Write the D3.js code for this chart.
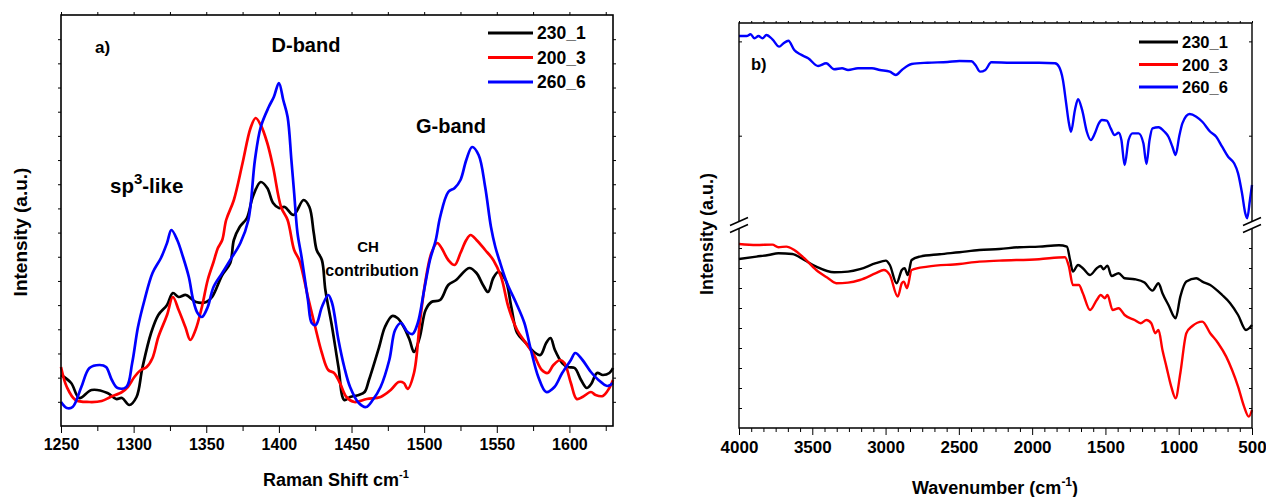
<!DOCTYPE html>
<html><head><meta charset="utf-8">
<script src="https://cdn.jsdelivr.net/npm/d3@7/dist/d3.min.js"></script>
<style>
body{margin:0;background:#fff}
text{font-family:"Liberation Sans",Arial,sans-serif;font-weight:bold;fill:#000}
</style>
</head><body>
<svg id="chart" width="1266" height="497"></svg>
<script>
// ---------- DATA ----------
const seriesNames = ["230_1", "200_3", "260_6"];
const seriesColors = ["#000000", "#ff0000", "#0000ff"];

// Raman (panel a): [Raman shift cm-1, intensity a.u.]
const raman230_1 = [[1250,51],[1257,43],[1262.6,28],[1271,36],[1282,33],[1288,27],[1292,28],[1297,21],[1302,29],[1306,58],[1312,93],[1317,111],[1323,121],[1327,133],[1331,129],[1336,131],[1343,124],[1350,124],[1354,129],[1361,151],[1366.5,163],[1369,186],[1373,199],[1378,208],[1382,229],[1387.5,244],[1392,238],[1396,223],[1400,218],[1404,219],[1410,211],[1417,226],[1421,219],[1424,193],[1426,176],[1429.6,166],[1432,136],[1436.6,99],[1441,59],[1445,26],[1449,29],[1455,31],[1459,34],[1462,46],[1469,79],[1473,99],[1478,110],[1481.6,108],[1486,99],[1490,86],[1493,74],[1497,89],[1501,116],[1505,124],[1511,126],[1516.6,141],[1522,146],[1531,158],[1536,153],[1540.5,141],[1544,134],[1547.6,148],[1551,154],[1556,146],[1560,119],[1564,93],[1570,83],[1575.6,74],[1580,71],[1584,83],[1587,88],[1590,76],[1595,63],[1599,59],[1603.6,58],[1608,46],[1612,38],[1615,42],[1619,53],[1623,51],[1627.5,53],[1630,58]];
const raman200_3 = [[1250,59],[1254,39],[1260,26],[1269.6,24],[1278,25],[1284,29],[1292,34],[1296,39],[1300.5,49],[1305,56],[1309,59],[1313,68],[1317,89],[1323,111],[1327,129],[1331,116],[1335.6,99],[1339,86],[1342.6,96],[1347,119],[1351,146],[1355,164],[1358,178],[1361,186],[1363.7,206],[1369,226],[1375,263],[1380.5,298],[1384,308],[1387.5,301],[1392,283],[1396,259],[1401.5,219],[1406,206],[1410.5,176],[1414,166],[1420,129],[1425,99],[1429.6,73],[1434,56],[1438,53],[1442,43],[1446.5,29],[1452,24],[1460.5,27],[1470,29],[1477,36],[1482.5,44],[1486,43],[1488.6,37],[1493,53],[1497,103],[1501,146],[1505,173],[1509,183],[1512,178],[1516.6,166],[1521,161],[1525,173],[1529,186],[1532,191],[1536,186],[1542,176],[1547.6,166],[1553,149],[1558,119],[1564,96],[1570,83],[1575.6,71],[1581,56],[1585,53],[1589,61],[1593.6,66],[1596.6,63],[1601,43],[1605,27],[1609,29],[1614.8,34],[1618,31],[1623,30],[1627.5,38],[1630,46]];
const raman260_6 = [[1250,24],[1254,18],[1258,19],[1264,39],[1269.6,58],[1276.7,61],[1281,59],[1285,46],[1289,38],[1295,39],[1299,63],[1303,99],[1307.5,126],[1313,153],[1318.8,168],[1323,183],[1326,196],[1330,186],[1334,169],[1338,149],[1341,126],[1344,113],[1347,109],[1351,119],[1355,139],[1361,153],[1366.5,166],[1373.5,183],[1379,206],[1383.5,266],[1387.5,299],[1393,319],[1396.5,329],[1400,343],[1403,326],[1406,309],[1408.6,266],[1410.5,233],[1412.8,193],[1415.6,169],[1420,126],[1422.6,103],[1425.4,101],[1429.6,119],[1434,131],[1436.6,123],[1441,86],[1445,59],[1449,39],[1455,23],[1460,19],[1464.6,26],[1470,39],[1476,66],[1480,96],[1484,103],[1488.6,94],[1492,92],[1495.6,103],[1500,136],[1504,166],[1508,186],[1511,209],[1516.6,234],[1521,238],[1525,246],[1529,266],[1533,279],[1537.5,271],[1542,239],[1546,199],[1549,179],[1551.7,166],[1557,143],[1563,124],[1569,103],[1573,79],[1578.6,49],[1584,34],[1589.7,39],[1595,53],[1601,66],[1604,73],[1609,66],[1614.8,54],[1620,46],[1626,40],[1630,43]];

// FTIR (panel b): [wavenumber cm-1, intensity a.u.]
const ftir230_1 = [[4000,84.5],[3881,85.7],[3799,86.5],[3731,87.4],[3636,87],[3555,84],[3473,80.7],[3351,77.9],[3256,78.2],[3175,79.4],[3066,82.4],[2998,83.7],[2971,81.5],[2925,72.4],[2889,79],[2870,79.9],[2849,76.5],[2822,84],[2767,85.7],[2631,86.9],[2496,87.9],[2360,89],[2224,89.5],[2088,90.4],[1953,90.7],[1817,91.4],[1763,90.7],[1741,84],[1722,78.2],[1687,81.5],[1654,79.9],[1605,76.5],[1559,79.9],[1532,81],[1513,79.4],[1486,81.2],[1459,76],[1410,77.4],[1369,74.9],[1301,74.4],[1233,72.7],[1179,68.7],[1138,72.4],[1111,67.4],[1070,61.5],[1021,54.9],[989,65.7],[948,73.2],[880,74.9],[839,73.2],[785,71.5],[704,66.5],[649,62.4],[595,56.5],[541,49],[500,51.5]];
const ftir200_3 = [[4000,92],[3881,91.5],[3772,91.7],[3731,90.4],[3677,90.7],[3623,89],[3555,84.9],[3473,79],[3392,74.9],[3337,72.4],[3256,72.7],[3175,74],[3066,77.4],[3012,79],[2971,76.5],[2917,65.7],[2889,72.4],[2876,73.2],[2854,69.9],[2822,79],[2713,80.7],[2496,82],[2360,83.2],[2224,83.7],[1953,84.4],[1776,85.4],[1749,80.7],[1722,71.5],[1681,71.5],[1654,67.4],[1605,59],[1559,64],[1532,66.5],[1505,64.9],[1486,66.5],[1451,59],[1410,59.9],[1369,56.5],[1301,54],[1260,52.4],[1220,54],[1187,52.4],[1160,47.4],[1138,49],[1111,39],[1084,30.7],[1051,20.7],[1021,14.9],[989,27.4],[948,47.4],[907,51],[839,53.2],[785,47.4],[731,42.4],[676,35.7],[636,29],[595,20.7],[554,10.7],[522,5.7],[500,9]];
const ftir260_6 = [[4000,205.7],[3948,205.7],[3921,207.5],[3894,203.3],[3867,205.7],[3840,203.3],[3813,206.8],[3772,202.2],[3726,194.4],[3696,198],[3663,200.7],[3623,190.9],[3582,186.3],[3528,182.1],[3460,173.9],[3405,176.8],[3351,170.4],[3297,171.5],[3256,169.7],[3188,171.5],[3093,171.5],[3039,169.7],[2971,167.9],[2930,164.4],[2889,169.7],[2822,176],[2713,177.4],[2577,178.2],[2496,179.2],[2414,178.9],[2387,175],[2355,167.9],[2319,169.7],[2279,177.8],[2143,177.4],[1953,177.4],[1844,176.8],[1817,173.2],[1790,159.1],[1768,134.4],[1749,113.1],[1735,104.2],[1708,127.3],[1687,138.6],[1659,127.3],[1627,104.2],[1600,95.4],[1572,102.5],[1545,113.1],[1524,116.6],[1491,115.9],[1464,107.8],[1437,100.7],[1410,103.2],[1391,95.4],[1369,68.9],[1342,95.4],[1315,102.5],[1274,102.5],[1241,91.9],[1220,70],[1199,95.4],[1179,107.8],[1138,108.9],[1097,104.2],[1070,98.9],[1043,88.3],[1021,79.5],[997,98.9],[975,113.1],[926,123],[880,120.2],[839,114.8],[785,104.2],[744,98.9],[704,88.3],[663,77.7],[622,70.7],[595,60.1],[568,38.9],[546,17.7],[533,12.4],[514,31.8],[500,47.7]];

const ramanXTicks = [1250,1300,1350,1400,1450,1500,1550,1600];
const ftirXTicks = [4000,3500,3000,2500,2000,1500,1000,500];

// ---------- DRAW ----------
const svg = d3.select("#chart");
svg.append("rect").attr("width",1266).attr("height",497).attr("fill","#fff");
const FONT = "Liberation Sans, Arial, sans-serif";

// ===== Panel a =====
const A = {l:61, r:613, t:15, b:426};
const xA = d3.scaleLinear().domain([1250,1630]).range([A.l, A.r]);
const yA = d3.scaleLinear().domain([0,411]).range([A.b, A.t]);
const gA = svg.append("g");

gA.append("g").attr("transform",`translate(0,${A.b})`)
  .call(d3.axisBottom(xA).tickValues(ramanXTicks).tickSize(7).tickPadding(6).tickFormat(d3.format("d")))
  .call(g=>{g.select(".domain").remove(); g.selectAll("text").attr("font-size",16).attr("font-family",FONT).attr("font-weight","bold");});
gA.append("g").attr("transform",`translate(0,${A.b})`)
  .call(d3.axisBottom(xA).tickValues(d3.range(1275,1630,50)).tickSize(5).tickFormat(""))
  .call(g=>g.select(".domain").remove());
gA.append("g").attr("transform",`translate(0,${A.t})`)
  .call(d3.axisTop(xA).tickValues(d3.range(1250,1631,25)).tickSize(3).tickFormat(""))
  .call(g=>g.select(".domain").remove());
const yTickA = d3.range(1,17).map(i=>i*411/17);
gA.append("g").attr("transform",`translate(${A.l},0)`)
  .call(d3.axisLeft(yA).tickValues(yTickA).tickSize(3).tickFormat(""))
  .call(g=>g.select(".domain").remove());
gA.append("g").attr("transform",`translate(${A.r},0)`)
  .call(d3.axisRight(yA).tickValues(yTickA).tickSize(3).tickFormat(""))
  .call(g=>g.select(".domain").remove());

const lineA = d3.line().x(d=>xA(d[0])).y(d=>yA(d[1])).curve(d3.curveCatmullRom.alpha(0.5));
[raman230_1, raman200_3, raman260_6].forEach((s,i)=>{
  gA.append("path").datum(s).attr("d",lineA).attr("fill","none")
    .attr("stroke",seriesColors[i]).attr("stroke-width",2.7).attr("stroke-linejoin","round");
});
gA.append("rect").attr("x",A.l).attr("y",A.t).attr("width",A.r-A.l).attr("height",A.b-A.t)
  .attr("fill","none").attr("stroke","#000").attr("stroke-width",1.6);

seriesNames.forEach((n,i)=>{
  const y = 33 + i*24.5;
  gA.append("line").attr("x1",488).attr("x2",533).attr("y1",y).attr("y2",y)
    .attr("stroke",seriesColors[i]).attr("stroke-width",2.8);
  gA.append("text").attr("x",537).attr("y",y+6).attr("font-size",17.5).text(n);
});
gA.append("text").attr("x",95).attr("y",53).attr("font-size",17).text("a)");
gA.append("text").attr("x",306).attr("y",52).attr("font-size",20).attr("text-anchor","middle").text("D-band");
gA.append("text").attr("x",451).attr("y",133).attr("font-size",20).attr("text-anchor","middle").text("G-band");
const sp = gA.append("text").attr("x",110).attr("y",193).attr("font-size",20.5);
sp.append("tspan").text("sp");
sp.append("tspan").attr("dy",-9).attr("font-size",15).text("3");
sp.append("tspan").attr("dy",9).text("-like");
gA.append("text").attr("x",368).attr("y",252).attr("font-size",15).attr("text-anchor","middle").text("CH");
gA.append("text").attr("x",372).attr("y",276).attr("font-size",16).attr("text-anchor","middle").text("contribution");
const xtA = gA.append("text").attr("x",263).attr("y",486).attr("font-size",18);
xtA.append("tspan").text("Raman Shift cm");
xtA.append("tspan").attr("dy",-8).attr("font-size",11).text("-1");
gA.append("text").attr("transform","translate(27,232) rotate(-90)").attr("text-anchor","middle")
  .attr("font-size",19).text("Intensity (a.u.)");

// ===== Panel b =====
const B = {l:739, r:1252, t:23, b:428, brk:225};
const xB = d3.scaleLinear().domain([4000,500]).range([B.l, B.r]);
const yBlow = d3.scaleLinear().domain([0,100]).range([B.b, 228]);
const yBup = d3.scaleLinear().domain([0,219.5]).range([230, B.t]);
const gB = svg.append("g");

gB.append("g").attr("transform",`translate(0,${B.b})`)
  .call(d3.axisBottom(xB).tickValues(ftirXTicks).tickSize(7).tickPadding(6).tickFormat(d3.format("d")))
  .call(g=>{g.select(".domain").remove(); g.selectAll("text").attr("font-size",17).attr("font-family",FONT).attr("font-weight","bold");});
const allMinorB = d3.range(0,43).map(i=>4000-i*500/6);
const minorB = allMinorB.filter((v,i)=>i%6!==0);
gB.append("g").attr("transform",`translate(0,${B.b})`)
  .call(d3.axisBottom(xB).tickValues(minorB).tickSize(4).tickFormat(""))
  .call(g=>g.select(".domain").remove());
gB.append("g").attr("transform",`translate(0,${B.t})`)
  .call(d3.axisTop(xB).tickValues(allMinorB).tickSize(2).tickFormat(""))
  .call(g=>g.select(".domain").remove());
const yTickLow = [10,20,30,40,50,60,70,80,90];
const yTickUp = [100,200];
[[B.l,"L"],[B.r,"R"]].forEach(([x,side])=>{
  const ax = side==="L"?d3.axisRight:d3.axisLeft;
  gB.append("g").attr("transform",`translate(${x},0)`)
    .call(ax(yBlow).tickValues(yTickLow).tickSize(3).tickFormat(""))
    .call(g=>g.select(".domain").remove());
  gB.append("g").attr("transform",`translate(${x},0)`)
    .call(ax(yBup).tickValues(yTickUp).tickSize(3).tickFormat(""))
    .call(g=>g.select(".domain").remove());
});

const lineLow = d3.line().x(d=>xB(d[0])).y(d=>yBlow(d[1])).curve(d3.curveMonotoneX);
const lineUp = d3.line().x(d=>xB(d[0])).y(d=>yBup(d[1])).curve(d3.curveMonotoneX);
gB.append("path").datum(ftir230_1).attr("d",lineLow).attr("fill","none").attr("stroke",seriesColors[0]).attr("stroke-width",2.4).attr("stroke-linejoin","round");
gB.append("path").datum(ftir200_3).attr("d",lineLow).attr("fill","none").attr("stroke",seriesColors[1]).attr("stroke-width",2.4).attr("stroke-linejoin","round");
gB.append("path").datum(ftir260_6).attr("d",lineUp).attr("fill","none").attr("stroke",seriesColors[2]).attr("stroke-width",2.4).attr("stroke-linejoin","round");

const gap = 4;
gB.append("path").attr("fill","none").attr("stroke","#000").attr("stroke-width",1.4)
  .attr("d",`M${B.l},${B.brk-gap}V${B.t}H${B.r}V${B.brk-gap}M${B.r},${B.brk+gap}V${B.b}H${B.l}V${B.brk+gap}`);
[B.l,B.r].forEach(x=>{
  [-3.5,3.5].forEach(dy=>{
    gB.append("line").attr("x1",x-9).attr("y1",B.brk+dy+4).attr("x2",x+9).attr("y2",B.brk+dy-4)
      .attr("stroke","#000").attr("stroke-width",1.4);
  });
});

seriesNames.forEach((n,i)=>{
  const y = 42 + i*22.5;
  gB.append("line").attr("x1",1139).attr("x2",1178).attr("y1",y).attr("y2",y)
    .attr("stroke",seriesColors[i]).attr("stroke-width",2.8);
  gB.append("text").attr("x",1182).attr("y",y+6).attr("font-size",16.5).text(n);
});
gB.append("text").attr("x",751).attr("y",70).attr("font-size",16.5).text("b)");
const xtB = gB.append("text").attr("x",912).attr("y",494).attr("font-size",18);
xtB.append("tspan").text("Wavenumber (cm");
xtB.append("tspan").attr("dy",-8).attr("font-size",12).text("-1");
xtB.append("tspan").attr("dy",8).text(")");
gB.append("text").attr("transform","translate(713,234) rotate(-90)").attr("text-anchor","middle")
  .attr("font-size",18).text("Intensity (a.u.)");
</script>
</body></html>
